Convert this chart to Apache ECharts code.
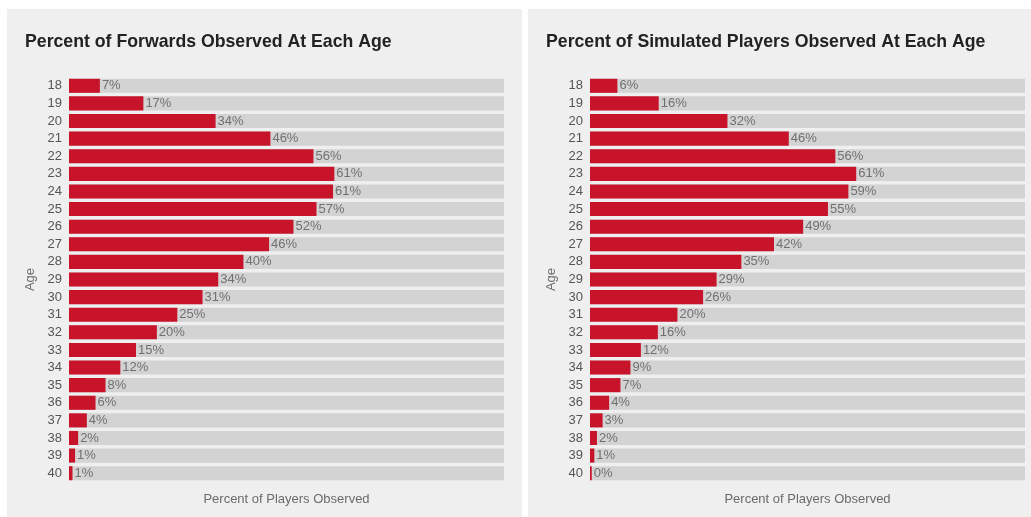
<!DOCTYPE html>
<html>
<head>
<meta charset="utf-8">
<script src="https://cdn.jsdelivr.net/npm/echarts@6/dist/echarts.min.js"></script>
<style>
  html, body { margin:0; padding:0; background:#ffffff; width:1031px; height:517px; overflow:hidden; position:relative; }
  .panel { position:absolute; background:#efefef; }
  #left { left:7px; top:9px; width:515px; height:508px; }
  #right { left:528px; top:9px; width:503px; height:508px; }
</style>
</head>
<body>
<div id="left" class="panel"></div>
<div id="right" class="panel"></div>
<script>
const ages = ['18','19','20','21','22','23','24','25','26','27','28','29','30','31','32','33','34','35','36','37','38','39','40'];
const forwardsPct = [7.1, 17.1, 33.7, 46.3, 56.2, 61.0, 60.7, 56.9, 51.6, 46.0, 40.1, 34.3, 30.7, 24.9, 20.2, 15.4, 11.8, 8.4, 6.1, 4.1, 2.1, 1.4, 0.8];
const simulatedPct = [6.3, 15.8, 31.6, 45.7, 56.4, 61.2, 59.4, 54.7, 49.0, 42.3, 34.8, 29.1, 26.0, 20.1, 15.6, 11.7, 9.3, 7.0, 4.4, 2.9, 1.6, 1.0, 0.4];
const titles = ['Percent of Forwards Observed At Each Age', 'Percent of Simulated Players Observed At Each Age'];
const xAxisName = 'Percent of Players Observed';
const yAxisName = 'Age';

const FONT = '"Liberation Sans", Arial, Helvetica, sans-serif';

function makeOption(title, values, gridRight) {
  return {
    animation: false,
    textStyle: { fontFamily: FONT },
    title: {
      text: title,
      left: 18, top: 24, padding: 0,
      textStyle: { fontFamily: FONT, fontSize: 17.7, fontWeight: 'bold', color: '#222222' }
    },
    grid: { left: 62, right: gridRight, top: 68, bottom: 35, containLabel: false },
    xAxis: {
      type: 'value', min: 0, max: 100,
      axisLabel: { show: false }, axisLine: { show: false }, axisTick: { show: false }, splitLine: { show: false },
      name: xAxisName, nameLocation: 'middle', nameGap: 11,
      nameTextStyle: { fontFamily: FONT, fontSize: 13, color: '#6b6b6b' }
    },
    yAxis: {
      type: 'category', data: ages, inverse: true,
      axisLine: { show: false }, axisTick: { show: false },
      axisLabel: { fontFamily: FONT, fontSize: 13, color: '#555555', margin: 7 },
      name: yAxisName, nameLocation: 'middle', nameRotate: 90, nameGap: 32,
      nameTextStyle: { fontFamily: FONT, fontSize: 13, color: '#6b6b6b' }
    },
    series: [{
      type: 'bar',
      data: values,
      barCategoryGap: '20%',
      showBackground: true,
      backgroundStyle: { color: '#d3d3d3' },
      itemStyle: { color: '#c8142b' },
      label: {
        show: true, position: 'right', distance: 2,
        fontFamily: FONT, fontSize: 13, color: '#707070',
        formatter: p => Math.round(p.value) + '%'
      }
    }]
  };
}

echarts.init(document.getElementById('left'), null, { renderer: 'canvas' })
  .setOption(makeOption(titles[0], forwardsPct, 18));
echarts.init(document.getElementById('right'), null, { renderer: 'canvas' })
  .setOption(makeOption(titles[1], simulatedPct, 6));
</script>
</body>
</html>
